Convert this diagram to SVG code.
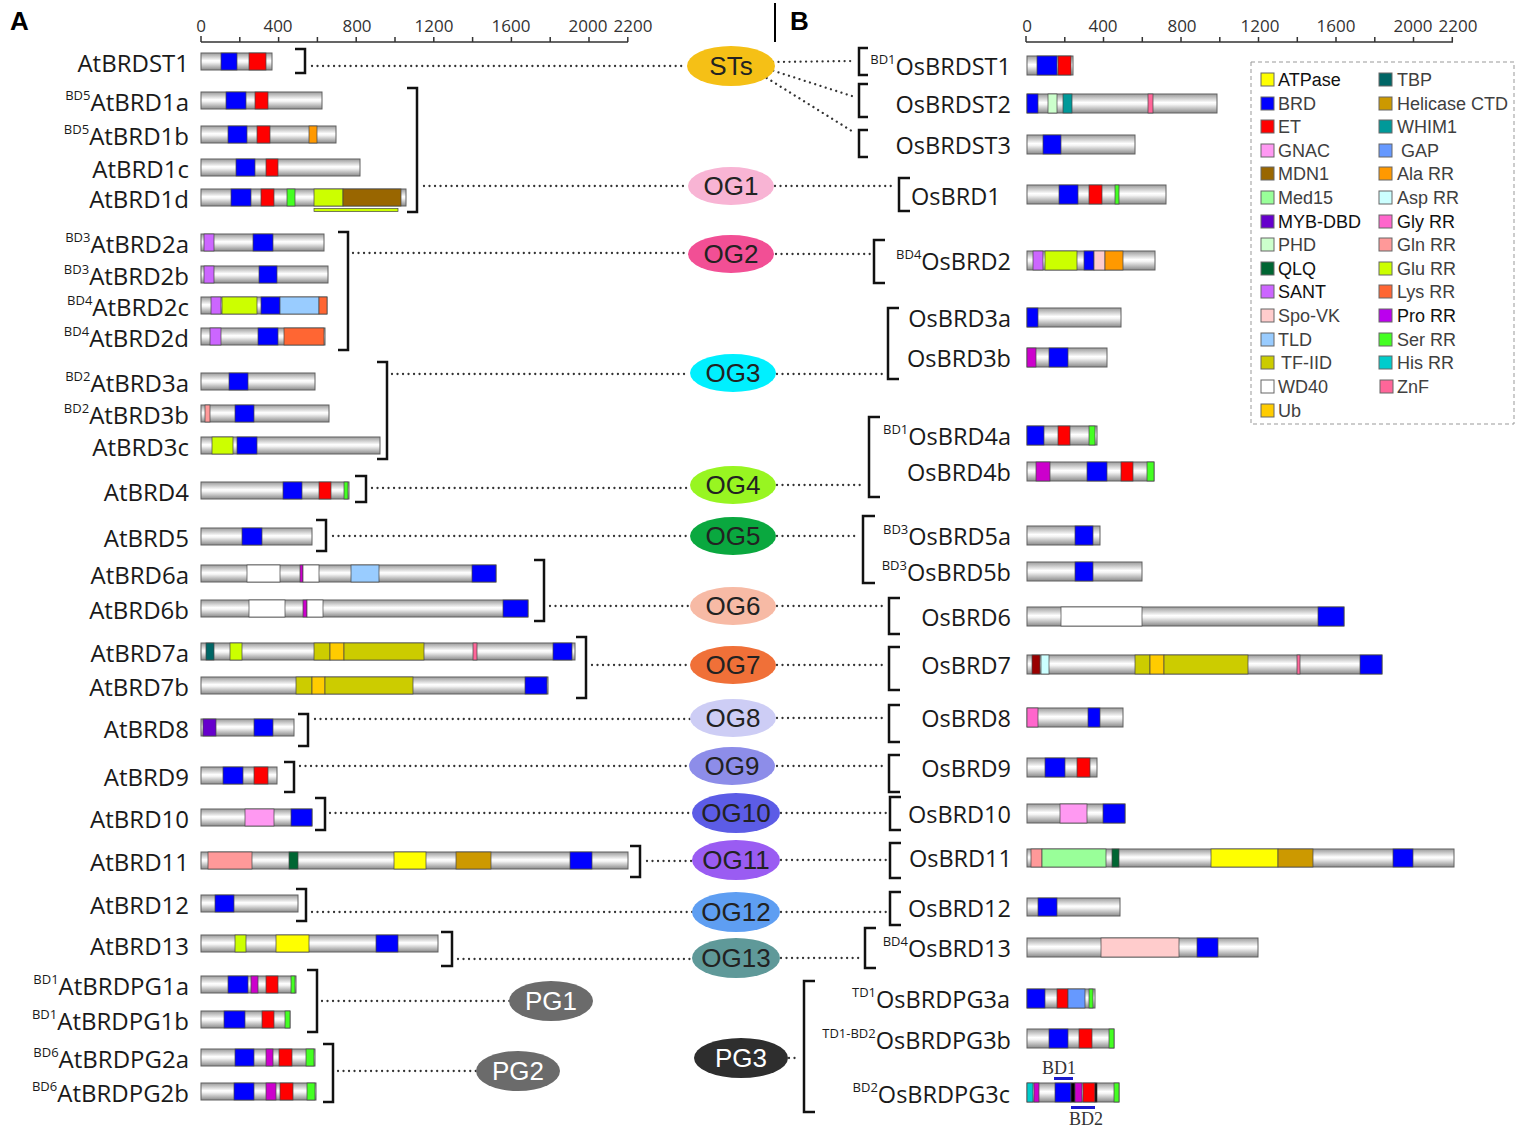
<svg xmlns="http://www.w3.org/2000/svg" width="1531" height="1137" viewBox="0 0 1531 1137">
<defs>
<linearGradient id="gb" x1="0" y1="0" x2="0" y2="1">
<stop offset="0" stop-color="#9a9a9a"/><stop offset="0.45" stop-color="#ffffff"/><stop offset="0.55" stop-color="#f4f4f4"/><stop offset="1" stop-color="#8a8a8a"/>
</linearGradient>
</defs>
<style>
.bar{fill:url(#gb);stroke:#606060;stroke-width:1}
.d{stroke:#444;stroke-width:0.7}
.atp{fill:#ffff00}.brd{fill:#0000ff}.et{fill:#ff0000}.gnac{fill:#ff99f2}.mdn{fill:#996600}.med{fill:#99ff99}
.myb{fill:#6600cc}.phd{fill:#ccffcc}.qlq{fill:#006633}.sant{fill:#cc66ff}.spo{fill:#ffcccc}.tld{fill:#99ccff}
.tf{fill:#cccc00}.wd{fill:#ffffff}.ub{fill:#ffcc00}.tbp{fill:#006666}.hel{fill:#cc9900}.whim{fill:#009999}
.gap{fill:#6699ff}.ala{fill:#ff9900}.asp{fill:#ccffff}.gly{fill:#ff66cc}.gln{fill:#ff9999}.glu{fill:#ccff00}
.lys{fill:#ff6633}.pro{fill:#cc00cc}.ser{fill:#44ff22}.his{fill:#00cccc}.znf{fill:#ff6699}.blk{fill:#000}.mar{fill:#990000}
.lab{font-family:"Open Sans","Liberation Sans",sans-serif;font-size:23.5px;fill:#1a1a1a}
.lft{font-size:24px}
.labL{text-anchor:end}
.sup{font-size:13px}
.ax{font-family:"Open Sans","Liberation Sans",sans-serif;font-size:17px;fill:#333;text-anchor:middle}
.axl{stroke:#333;stroke-width:1.5;fill:none}
.brk{stroke:#111;stroke-width:2.5;fill:none}
.dot{stroke:#333;stroke-width:2.3;stroke-dasharray:0.01 5.5;stroke-linecap:round;fill:none}
.ov{font-family:"Liberation Sans",Arial,sans-serif;font-size:26px;text-anchor:middle;fill:#222}
.leg{font-family:"Liberation Sans",Arial,sans-serif;font-size:18px;fill:#404040}
.sw{stroke:#666;stroke-width:1}
.pl{font-family:"Liberation Sans",Arial,sans-serif;font-size:26px;font-weight:bold;fill:#000}
.bdt{font-family:"Liberation Serif","Times New Roman",serif;font-size:18px;fill:#333;text-anchor:middle}
</style>
<rect width="1531" height="1137" fill="#fff"/>
<text class="pl" x="10" y="30">A</text>
<text class="pl" x="790" y="30">B</text>
<line x1="775" y1="3" x2="775" y2="42" stroke="#000" stroke-width="2"/>

<g id="axisA">
<path class="axl" d="M201,42H628M201,42v-6M239.8,42v-5M278.6,42v-5M317.4,42v-5M356.2,42v-5M395,42v-5M433.8,42v-5M472.6,42v-5M511.4,42v-5M550.2,42v-5M589,42v-5M627.8,42v-5"/>
<text class="ax" x="201" y="32">0</text><text class="ax" x="278" y="32">400</text><text class="ax" x="357" y="32">800</text><text class="ax" x="434" y="32">1200</text><text class="ax" x="511" y="32">1600</text><text class="ax" x="588" y="32">2000</text><text class="ax" x="633" y="32">2200</text>
</g>
<g id="axisB">
<path class="axl" d="M1026,42H1453M1026,42v-6M1064.8,42v-5M1103.5,42v-5M1142.3,42v-5M1181,42v-5M1219.8,42v-5M1258.5,42v-5M1297.3,42v-5M1336,42v-5M1374.8,42v-5M1413.5,42v-5M1452.3,42v-5"/>
<text class="ax" x="1027" y="32">0</text><text class="ax" x="1103" y="32">400</text><text class="ax" x="1182" y="32">800</text><text class="ax" x="1260" y="32">1200</text><text class="ax" x="1336" y="32">1600</text><text class="ax" x="1413" y="32">2000</text><text class="ax" x="1458" y="32">2200</text>
</g>

<g id="connectors">
<path class="brk" d="M295,49H305V73H295"/>
<path class="brk" d="M407,88H417V212H407"/>
<path class="brk" d="M338,232H348V350H338"/>
<path class="brk" d="M377,362H387V459H377"/>
<path class="brk" d="M355,476H366V502H355"/>
<path class="brk" d="M316,520H326V551H316"/>
<path class="brk" d="M534,560H544V621H534"/>
<path class="brk" d="M576,637H586V698H576"/>
<path class="brk" d="M298,714H308V746H298"/>
<path class="brk" d="M284,762H294V792H284"/>
<path class="brk" d="M315,798H325V830H315"/>
<path class="brk" d="M630,846H640V877H630"/>
<path class="brk" d="M296,889H306V921H296"/>
<path class="brk" d="M441,932H452V966H441"/>
<path class="brk" d="M307,970H317V1032H307"/>
<path class="brk" d="M323,1044H333V1102H323"/>
<path class="brk" d="M868,48H859V75H868"/>
<path class="brk" d="M868,84H859V117H868"/>
<path class="brk" d="M868,130H859V157H868"/>
<path class="brk" d="M910,178H899V211H910"/>
<path class="brk" d="M885,240H874V283H885"/>
<path class="brk" d="M899,308H888V379H899"/>
<path class="brk" d="M880,417H869V497H880"/>
<path class="brk" d="M875,516H863V583H875"/>
<path class="brk" d="M900,598H889V634H900"/>
<path class="brk" d="M900,647H889V690H900"/>
<path class="brk" d="M900,705H889V742H900"/>
<path class="brk" d="M900,755H889V792H900"/>
<path class="brk" d="M901,797H890V830H901"/>
<path class="brk" d="M901,843H890V878H901"/>
<path class="brk" d="M901,892H890V925H901"/>
<path class="brk" d="M876,928H865V968H876"/>
<path class="brk" d="M815,981H804V1112H815"/>
<path class="dot" d="M312,66H686"/>
<path class="dot" d="M424,186H686"/>
<path class="dot" d="M353,253H687"/>
<path class="dot" d="M392,374H688"/>
<path class="dot" d="M372,488H690"/>
<path class="dot" d="M333,536H690"/>
<path class="dot" d="M550,606H690"/>
<path class="dot" d="M592,665H690"/>
<path class="dot" d="M315,719H690"/>
<path class="dot" d="M300,766H690"/>
<path class="dot" d="M330,813H693"/>
<path class="dot" d="M647,861H693"/>
<path class="dot" d="M312,912H693"/>
<path class="dot" d="M458,959H693"/>
<path class="dot" d="M322,1001H510"/>
<path class="dot" d="M338,1071H477"/>
<path class="dot" d="M773,62L855,61"/>
<path class="dot" d="M768,69L855,97"/>
<path class="dot" d="M762,75L855,133"/>
<path class="dot" d="M775,186H895"/>
<path class="dot" d="M776,254H870"/>
<path class="dot" d="M777,374H884"/>
<path class="dot" d="M777,485H865"/>
<path class="dot" d="M777,536H859"/>
<path class="dot" d="M777,606H885"/>
<path class="dot" d="M777,665H885"/>
<path class="dot" d="M777,718H885"/>
<path class="dot" d="M777,766H885"/>
<path class="dot" d="M781,813H886"/>
<path class="dot" d="M781,860H886"/>
<path class="dot" d="M781,912H886"/>
<path class="dot" d="M781,958H861"/>
<path class="dot" d="M789,1058H800"/>
</g>

<g id="STs"><ellipse cx="731" cy="66" rx="44" ry="20" fill="#f5c016"/><text class="ov" x="731" y="75">STs</text></g>
<g id="OG1"><ellipse cx="731" cy="186" rx="43" ry="19" fill="#f8b4d4"/><text class="ov" x="731" y="195">OG1</text></g>
<g id="OG2"><ellipse cx="731" cy="254" rx="43" ry="19" fill="#f24f95"/><text class="ov" x="731" y="263">OG2</text></g>
<g id="OG3"><ellipse cx="733" cy="373" rx="43" ry="19" fill="#00f0ff"/><text class="ov" x="733" y="382">OG3</text></g>
<g id="OG4"><ellipse cx="733" cy="485" rx="43" ry="19" fill="#98f521"/><text class="ov" x="733" y="494">OG4</text></g>
<g id="OG5"><ellipse cx="733" cy="536" rx="43" ry="19" fill="#0aa83f"/><text class="ov" x="733" y="545">OG5</text></g>
<g id="OG6"><ellipse cx="733" cy="606" rx="43" ry="19" fill="#f7baa5"/><text class="ov" x="733" y="615">OG6</text></g>
<g id="OG7"><ellipse cx="733" cy="665" rx="43" ry="19" fill="#f07038"/><text class="ov" x="733" y="674">OG7</text></g>
<g id="OG8"><ellipse cx="733" cy="718" rx="43" ry="19" fill="#cdcdf5"/><text class="ov" x="733" y="727">OG8</text></g>
<g id="OG9"><ellipse cx="732" cy="766" rx="43" ry="19" fill="#8d8de9"/><text class="ov" x="732" y="775">OG9</text></g>
<g id="OG10"><ellipse cx="736" cy="813" rx="44" ry="20" fill="#5c5ce6"/><text class="ov" x="736" y="822">OG10</text></g>
<g id="OG11"><ellipse cx="736" cy="860" rx="44" ry="20" fill="#9a5cf2"/><text class="ov" x="736" y="869">OG11</text></g>
<g id="OG12"><ellipse cx="736" cy="912" rx="44" ry="20" fill="#5e9ef2"/><text class="ov" x="736" y="921">OG12</text></g>
<g id="OG13"><ellipse cx="736" cy="958" rx="44" ry="20" fill="#5f9999"/><text class="ov" x="736" y="967">OG13</text></g>
<g id="PG1"><ellipse cx="551" cy="1001" rx="42" ry="20" fill="#6b6b6b"/><text class="ov" x="551" y="1010" style="fill:#fff">PG1</text></g>
<g id="PG2"><ellipse cx="518" cy="1071" rx="42" ry="20" fill="#6b6b6b"/><text class="ov" x="518" y="1080" style="fill:#fff">PG2</text></g>
<g id="PG3"><ellipse cx="741" cy="1058" rx="47" ry="20" fill="#2e2e2e"/><text class="ov" x="741" y="1067" style="fill:#fff">PG3</text></g>

<!-- Left proteins -->
<g id="AtBRDST1"><text class="lab lft labL" x="189" y="72">AtBRDST1</text><rect class="bar" x="201" y="53" width="71" height="17"/><rect class="d brd" x="221" y="53" width="16" height="17"/><rect class="d et" x="249" y="53" width="17" height="17"/></g>
<g id="AtBRD1a"><text class="lab lft labL" x="189" y="111"><tspan class="sup" dy="-11">BD5</tspan><tspan dy="11">AtBRD1a</tspan></text><rect class="bar" x="201" y="92" width="121" height="17"/><rect class="d brd" x="226" y="92" width="20" height="17"/><rect class="d et" x="255" y="92" width="13" height="17"/></g>
<g id="AtBRD1b"><text class="lab lft labL" x="189" y="145"><tspan class="sup" dy="-11">BD5</tspan><tspan dy="11">AtBRD1b</tspan></text><rect class="bar" x="201" y="126" width="135" height="17"/><rect class="d brd" x="228" y="126" width="19" height="17"/><rect class="d et" x="257" y="126" width="13" height="17"/><rect class="d ala" x="309" y="126" width="8" height="17"/></g>
<g id="AtBRD1c"><text class="lab lft labL" x="189" y="178">AtBRD1c</text><rect class="bar" x="201" y="159" width="159" height="17"/><rect class="d brd" x="236" y="159" width="19" height="17"/><rect class="d et" x="266" y="159" width="12" height="17"/></g>
<g id="AtBRD1d"><text class="lab lft labL" x="189" y="208">AtBRD1d</text><rect class="bar" x="201" y="189" width="205" height="17"/><rect class="d brd" x="231" y="189" width="20" height="17"/><rect class="d et" x="261" y="189" width="13" height="17"/><rect class="d ser" x="287" y="189" width="8" height="17"/><rect class="d glu" x="314" y="189" width="29" height="17"/><rect class="d mdn" x="343" y="189" width="58" height="17"/><rect class="d glu" x="314" y="208.5" width="84" height="3"/></g>
<g id="AtBRD2a"><text class="lab lft labL" x="189" y="253"><tspan class="sup" dy="-11">BD3</tspan><tspan dy="11">AtBRD2a</tspan></text><rect class="bar" x="201" y="234" width="123" height="17"/><rect class="d sant" x="204" y="234" width="10" height="17"/><rect class="d brd" x="253" y="234" width="20" height="17"/></g>
<g id="AtBRD2b"><text class="lab lft labL" x="189" y="285"><tspan class="sup" dy="-11">BD3</tspan><tspan dy="11">AtBRD2b</tspan></text><rect class="bar" x="201" y="266" width="127" height="17"/><rect class="d sant" x="204" y="266" width="10" height="17"/><rect class="d brd" x="259" y="266" width="18" height="17"/></g>
<g id="AtBRD2c"><text class="lab lft labL" x="189" y="316"><tspan class="sup" dy="-11">BD4</tspan><tspan dy="11">AtBRD2c</tspan></text><rect class="bar" x="201" y="297" width="126" height="17"/><rect class="d sant" x="211" y="297" width="10" height="17"/><rect class="d glu" x="222" y="297" width="35" height="17"/><rect class="d brd" x="261" y="297" width="19" height="17"/><rect class="d tld" x="280" y="297" width="39" height="17"/><rect class="d lys" x="319" y="297" width="8" height="17"/></g>
<g id="AtBRD2d"><text class="lab lft labL" x="189" y="347"><tspan class="sup" dy="-11">BD4</tspan><tspan dy="11">AtBRD2d</tspan></text><rect class="bar" x="201" y="328" width="124" height="17"/><rect class="d sant" x="210" y="328" width="11" height="17"/><rect class="d brd" x="258" y="328" width="20" height="17"/><rect class="d lys" x="284" y="328" width="40" height="17"/></g>
<g id="AtBRD3a"><text class="lab lft labL" x="189" y="392"><tspan class="sup" dy="-11">BD2</tspan><tspan dy="11">AtBRD3a</tspan></text><rect class="bar" x="201" y="373" width="114" height="17"/><rect class="d brd" x="229" y="373" width="19" height="17"/></g>
<g id="AtBRD3b"><text class="lab lft labL" x="189" y="424"><tspan class="sup" dy="-11">BD2</tspan><tspan dy="11">AtBRD3b</tspan></text><rect class="bar" x="201" y="405" width="128" height="17"/><rect class="d gln" x="205" y="405" width="5" height="17"/><rect class="d brd" x="235" y="405" width="19" height="17"/></g>
<g id="AtBRD3c"><text class="lab lft labL" x="189" y="456">AtBRD3c</text><rect class="bar" x="201" y="437" width="179" height="17"/><rect class="d glu" x="212" y="437" width="21" height="17"/><rect class="d brd" x="237" y="437" width="20" height="17"/></g>
<g id="AtBRD4"><text class="lab lft labL" x="189" y="501">AtBRD4</text><rect class="bar" x="201" y="482" width="148" height="17"/><rect class="d brd" x="283" y="482" width="19" height="17"/><rect class="d et" x="319" y="482" width="12" height="17"/><rect class="d ser" x="344" y="482" width="4" height="17"/></g>
<g id="AtBRD5"><text class="lab lft labL" x="189" y="547">AtBRD5</text><rect class="bar" x="201" y="528" width="111" height="17"/><rect class="d brd" x="242" y="528" width="20" height="17"/></g>
<g id="AtBRD6a"><text class="lab lft labL" x="189" y="584">AtBRD6a</text><rect class="bar" x="201" y="565" width="295" height="17"/><rect class="d wd" x="247" y="565" width="33" height="17"/><rect class="d pro" x="300" y="565" width="3" height="17"/><rect class="d wd" x="303" y="565" width="16" height="17"/><rect class="d tld" x="351" y="565" width="28" height="17"/><rect class="d brd" x="472" y="565" width="24" height="17"/></g>
<g id="AtBRD6b"><text class="lab lft labL" x="189" y="619">AtBRD6b</text><rect class="bar" x="201" y="600" width="327" height="17"/><rect class="d wd" x="249" y="600" width="36" height="17"/><rect class="d pro" x="303" y="600" width="4" height="17"/><rect class="d wd" x="307" y="600" width="16" height="17"/><rect class="d brd" x="503" y="600" width="25" height="17"/></g>
<g id="AtBRD7a"><text class="lab lft labL" x="189" y="662">AtBRD7a</text><rect class="bar" x="201" y="643" width="374" height="17"/><rect class="d tbp" x="206" y="643" width="8" height="17"/><rect class="d glu" x="230" y="643" width="12" height="17"/><rect class="d tf" x="314" y="643" width="16" height="17"/><rect class="d ub" x="330" y="643" width="14" height="17"/><rect class="d tf" x="344" y="643" width="80" height="17"/><rect class="d znf" x="473" y="643" width="4" height="17"/><rect class="d brd" x="553" y="643" width="19" height="17"/></g>
<g id="AtBRD7b"><text class="lab lft labL" x="189" y="696">AtBRD7b</text><rect class="bar" x="201" y="677" width="347" height="17"/><rect class="d tf" x="296" y="677" width="16" height="17"/><rect class="d ub" x="312" y="677" width="13" height="17"/><rect class="d tf" x="325" y="677" width="88" height="17"/><rect class="d brd" x="525" y="677" width="22" height="17"/></g>
<g id="AtBRD8"><text class="lab lft labL" x="189" y="738">AtBRD8</text><rect class="bar" x="201" y="719" width="93" height="17"/><rect class="d myb" x="203" y="719" width="13" height="17"/><rect class="d brd" x="254" y="719" width="19" height="17"/></g>
<g id="AtBRD9"><text class="lab lft labL" x="189" y="786">AtBRD9</text><rect class="bar" x="201" y="767" width="76" height="17"/><rect class="d brd" x="223" y="767" width="20" height="17"/><rect class="d et" x="254" y="767" width="14" height="17"/></g>
<g id="AtBRD10"><text class="lab lft labL" x="189" y="828">AtBRD10</text><rect class="bar" x="201" y="809" width="111" height="17"/><rect class="d gnac" x="245" y="809" width="29" height="17"/><rect class="d brd" x="291" y="809" width="21" height="17"/></g>
<g id="AtBRD11"><text class="lab lft labL" x="189" y="871">AtBRD11</text><rect class="bar" x="201" y="852" width="427" height="17"/><rect class="d gln" x="208" y="852" width="44" height="17"/><rect class="d qlq" x="289" y="852" width="9" height="17"/><rect class="d atp" x="394" y="852" width="32" height="17"/><rect class="d hel" x="456" y="852" width="35" height="17"/><rect class="d brd" x="570" y="852" width="22" height="17"/></g>
<g id="AtBRD12"><text class="lab lft labL" x="189" y="914">AtBRD12</text><rect class="bar" x="201" y="895" width="97" height="17"/><rect class="d brd" x="215" y="895" width="19" height="17"/></g>
<g id="AtBRD13"><text class="lab lft labL" x="189" y="955">AtBRD13</text><rect class="bar" x="201" y="935" width="237" height="17"/><rect class="d glu" x="235" y="935" width="11" height="17"/><rect class="d atp" x="276" y="935" width="33" height="17"/><rect class="d brd" x="376" y="935" width="22" height="17"/></g>
<g id="AtBRDPG1a"><text class="lab lft labL" x="189" y="995"><tspan class="sup" dy="-11">BD1</tspan><tspan dy="11">AtBRDPG1a</tspan></text><rect class="bar" x="201" y="976" width="95" height="17"/><rect class="d brd" x="228" y="976" width="20" height="17"/><rect class="d pro" x="251" y="976" width="7" height="17"/><rect class="d et" x="266" y="976" width="12" height="17"/><rect class="d ser" x="291" y="976" width="4" height="17"/></g>
<g id="AtBRDPG1b"><text class="lab lft labL" x="189" y="1030"><tspan class="sup" dy="-11">BD1</tspan><tspan dy="11">AtBRDPG1b</tspan></text><rect class="bar" x="201" y="1011" width="89" height="17"/><rect class="d brd" x="224" y="1011" width="21" height="17"/><rect class="d et" x="262" y="1011" width="12" height="17"/><rect class="d ser" x="285" y="1011" width="5" height="17"/></g>
<g id="AtBRDPG2a"><text class="lab lft labL" x="189" y="1068"><tspan class="sup" dy="-11">BD6</tspan><tspan dy="11">AtBRDPG2a</tspan></text><rect class="bar" x="201" y="1049" width="114" height="17"/><rect class="d brd" x="235" y="1049" width="19" height="17"/><rect class="d pro" x="266" y="1049" width="7" height="17"/><rect class="d et" x="279" y="1049" width="13" height="17"/><rect class="d ser" x="306" y="1049" width="8" height="17"/></g>
<g id="AtBRDPG2b"><text class="lab lft labL" x="189" y="1102"><tspan class="sup" dy="-11">BD6</tspan><tspan dy="11">AtBRDPG2b</tspan></text><rect class="bar" x="201" y="1083" width="115" height="17"/><rect class="d brd" x="234" y="1083" width="20" height="17"/><rect class="d pro" x="266" y="1083" width="10" height="17"/><rect class="d et" x="280" y="1083" width="13" height="17"/><rect class="d ser" x="307" y="1083" width="8" height="17"/></g>

<!-- Right proteins -->
<g id="OsBRDST1"><text class="lab labL" x="1011" y="75"><tspan class="sup" dy="-11">BD1</tspan><tspan dy="11">OsBRDST1</tspan></text><rect class="bar" x="1027" y="56" width="46" height="19"/><rect class="d brd" x="1037" y="56" width="20" height="19"/><rect class="d et" x="1058" y="56" width="13" height="19"/></g>
<g id="OsBRDST2"><text class="lab labL" x="1011" y="113">OsBRDST2</text><rect class="bar" x="1027" y="94" width="190" height="19"/><rect class="d brd" x="1027" y="94" width="11" height="19"/><rect class="d phd" x="1048" y="94" width="9" height="19"/><rect class="d whim" x="1063" y="94" width="9" height="19"/><rect class="d znf" x="1148" y="94" width="5" height="19"/></g>
<g id="OsBRDST3"><text class="lab labL" x="1011" y="154">OsBRDST3</text><rect class="bar" x="1027" y="135" width="108" height="19"/><rect class="d brd" x="1043" y="135" width="18" height="19"/></g>
<g id="OsBRD1"><text class="lab" x="911" y="205">OsBRD1</text><rect class="bar" x="1027" y="185" width="139" height="19"/><rect class="d brd" x="1059" y="185" width="19" height="19"/><rect class="d et" x="1089" y="185" width="13" height="19"/><rect class="d ser" x="1115" y="185" width="4" height="19"/></g>
<g id="OsBRD2"><text class="lab labL" x="1011" y="270"><tspan class="sup" dy="-11">BD4</tspan><tspan dy="11">OsBRD2</tspan></text><rect class="bar" x="1027" y="251" width="128" height="19"/><rect class="d sant" x="1033" y="251" width="10" height="19"/><rect class="d glu" x="1045" y="251" width="32" height="19"/><rect class="d brd" x="1084" y="251" width="10" height="19"/><rect class="d spo" x="1094" y="251" width="11" height="19"/><rect class="d ala" x="1105" y="251" width="18" height="19"/></g>
<g id="OsBRD3a"><text class="lab labL" x="1011" y="327">OsBRD3a</text><rect class="bar" x="1027" y="308" width="94" height="19"/><rect class="d brd" x="1027" y="308" width="11" height="19"/></g>
<g id="OsBRD3b"><text class="lab labL" x="1011" y="367">OsBRD3b</text><rect class="bar" x="1027" y="348" width="80" height="19"/><rect class="d pro" x="1027" y="348" width="9" height="19"/><rect class="d brd" x="1049" y="348" width="19" height="19"/></g>
<g id="OsBRD4a"><text class="lab labL" x="1011" y="445"><tspan class="sup" dy="-11">BD1</tspan><tspan dy="11">OsBRD4a</tspan></text><rect class="bar" x="1027" y="426" width="70" height="19"/><rect class="d brd" x="1027" y="426" width="17" height="19"/><rect class="d et" x="1058" y="426" width="12" height="19"/><rect class="d ser" x="1089" y="426" width="6" height="19"/></g>
<g id="OsBRD4b"><text class="lab labL" x="1011" y="481">OsBRD4b</text><rect class="bar" x="1027" y="462" width="127" height="19"/><rect class="d pro" x="1036" y="462" width="14" height="19"/><rect class="d brd" x="1087" y="462" width="20" height="19"/><rect class="d et" x="1121" y="462" width="12" height="19"/><rect class="d ser" x="1147" y="462" width="7" height="19"/></g>
<g id="OsBRD5a"><text class="lab labL" x="1011" y="545"><tspan class="sup" dy="-11">BD3</tspan><tspan dy="11">OsBRD5a</tspan></text><rect class="bar" x="1027" y="526" width="73" height="19"/><rect class="d brd" x="1075" y="526" width="18" height="19"/></g>
<g id="OsBRD5b"><text class="lab labL" x="1011" y="581"><tspan class="sup" dy="-11">BD3</tspan><tspan dy="11">OsBRD5b</tspan></text><rect class="bar" x="1027" y="562" width="115" height="19"/><rect class="d brd" x="1075" y="562" width="18" height="19"/></g>
<g id="OsBRD6"><text class="lab labL" x="1011" y="626">OsBRD6</text><rect class="bar" x="1027" y="607" width="317" height="19"/><rect class="d wd" x="1061" y="607" width="81" height="19"/><rect class="d brd" x="1318" y="607" width="26" height="19"/></g>
<g id="OsBRD7"><text class="lab labL" x="1011" y="674">OsBRD7</text><rect class="bar" x="1027" y="655" width="355" height="19"/><rect class="d mar" x="1032" y="655" width="8" height="19"/><rect class="d asp" x="1041" y="655" width="8" height="19"/><rect class="d tf" x="1135" y="655" width="15" height="19"/><rect class="d ub" x="1150" y="655" width="14" height="19"/><rect class="d tf" x="1164" y="655" width="84" height="19"/><rect class="d znf" x="1297" y="655" width="3" height="19"/><rect class="d brd" x="1360" y="655" width="22" height="19"/></g>
<g id="OsBRD8"><text class="lab labL" x="1011" y="727">OsBRD8</text><rect class="bar" x="1027" y="708" width="96" height="19"/><rect class="d gly" x="1027" y="708" width="11" height="19"/><rect class="d brd" x="1088" y="708" width="12" height="19"/></g>
<g id="OsBRD9"><text class="lab labL" x="1011" y="777">OsBRD9</text><rect class="bar" x="1027" y="758" width="70" height="19"/><rect class="d brd" x="1045" y="758" width="20" height="19"/><rect class="d et" x="1077" y="758" width="13" height="19"/></g>
<g id="OsBRD10"><text class="lab labL" x="1011" y="823">OsBRD10</text><rect class="bar" x="1027" y="804" width="98" height="19"/><rect class="d gnac" x="1060" y="804" width="27" height="19"/><rect class="d brd" x="1103" y="804" width="22" height="19"/></g>
<g id="OsBRD11"><text class="lab labL" x="1012" y="867">OsBRD11</text><rect class="bar" x="1027" y="849" width="427" height="18"/><rect class="d gln" x="1031" y="849" width="11" height="18"/><rect class="d med" x="1042" y="849" width="64" height="18"/><rect class="d qlq" x="1112" y="849" width="7" height="18"/><rect class="d atp" x="1211" y="849" width="67" height="18"/><rect class="d hel" x="1278" y="849" width="35" height="18"/><rect class="d brd" x="1393" y="849" width="20" height="18"/></g>
<g id="OsBRD12"><text class="lab labL" x="1011" y="917">OsBRD12</text><rect class="bar" x="1027" y="898" width="93" height="18"/><rect class="d brd" x="1038" y="898" width="19" height="18"/></g>
<g id="OsBRD13"><text class="lab labL" x="1011" y="957"><tspan class="sup" dy="-11">BD4</tspan><tspan dy="11">OsBRD13</tspan></text><rect class="bar" x="1027" y="938" width="231" height="19"/><rect class="d spo" x="1101" y="938" width="78" height="19"/><rect class="d brd" x="1197" y="938" width="21" height="19"/></g>
<g id="OsBRDPG3a"><text class="lab labL" x="1010" y="1008"><tspan class="sup" dy="-11">TD1</tspan><tspan dy="11">OsBRDPG3a</tspan></text><rect class="bar" x="1027" y="989" width="68" height="19"/><rect class="d brd" x="1027" y="989" width="18" height="19"/><rect class="d et" x="1057" y="989" width="11" height="19"/><rect class="d gap" x="1068" y="989" width="17" height="19"/><rect class="d ser" x="1089" y="989" width="4" height="19"/></g>
<g id="OsBRDPG3b"><text class="lab labL" x="1011" y="1049"><tspan class="sup" dy="-11">TD1-BD2</tspan><tspan dy="11">OsBRDPG3b</tspan></text><rect class="bar" x="1027" y="1029" width="87" height="19"/><rect class="d brd" x="1049" y="1029" width="19" height="19"/><rect class="d et" x="1079" y="1029" width="13" height="19"/><rect class="d ser" x="1109" y="1029" width="5" height="19"/></g>
<g id="OsBRDPG3c"><text class="lab labL" x="1010" y="1103"><tspan class="sup" dy="-11">BD2</tspan><tspan dy="11">OsBRDPG3c</tspan></text><rect class="bar" x="1027" y="1083" width="92" height="19"/><rect class="d his" x="1027" y="1083" width="6" height="19"/><rect class="d pro" x="1034" y="1083" width="5" height="19"/><rect class="d brd" x="1055" y="1083" width="16" height="19"/><rect class="d blk" x="1071" y="1083" width="4" height="19"/><rect class="d pro" x="1075" y="1083" width="7" height="19"/><rect class="d et" x="1083" y="1083" width="12" height="19"/><rect class="d blk" x="1095" y="1083" width="2" height="19"/><rect class="d ser" x="1114" y="1083" width="5" height="19"/>
<rect x="1054" y="1077" width="19" height="3" fill="#1a1acc"/><text class="bdt" x="1059" y="1074">BD1</text>
<rect x="1071" y="1106" width="24" height="3" fill="#1a1acc"/><text class="bdt" x="1086" y="1125">BD2</text></g>

<g id="legend">
<rect x="1251" y="62" width="263" height="362" fill="none" stroke="#999" stroke-width="1" stroke-dasharray="4 3"/>
<rect class="sw atp" x="1261" y="73" width="13" height="13"/><text class="leg" x="1278" y="86" style="fill:#111">ATPase</text>
<rect class="sw brd" x="1261" y="97" width="13" height="13"/><text class="leg" x="1278" y="110">BRD</text>
<rect class="sw et" x="1261" y="120" width="13" height="13"/><text class="leg" x="1278" y="133">ET</text>
<rect class="sw gnac" x="1261" y="144" width="13" height="13"/><text class="leg" x="1278" y="157">GNAC</text>
<rect class="sw mdn" x="1261" y="167" width="13" height="13"/><text class="leg" x="1278" y="180">MDN1</text>
<rect class="sw med" x="1261" y="191" width="13" height="13"/><text class="leg" x="1278" y="204">Med15</text>
<rect class="sw myb" x="1261" y="215" width="13" height="13"/><text class="leg" x="1278" y="228" style="fill:#111">MYB-DBD</text>
<rect class="sw phd" x="1261" y="238" width="13" height="13"/><text class="leg" x="1278" y="251">PHD</text>
<rect class="sw qlq" x="1261" y="262" width="13" height="13"/><text class="leg" x="1278" y="275" style="fill:#111">QLQ</text>
<rect class="sw sant" x="1261" y="285" width="13" height="13"/><text class="leg" x="1278" y="298" style="fill:#111">SANT</text>
<rect class="sw spo" x="1261" y="309" width="13" height="13"/><text class="leg" x="1278" y="322">Spo-VK</text>
<rect class="sw tld" x="1261" y="333" width="13" height="13"/><text class="leg" x="1278" y="346">TLD</text>
<rect class="sw tf" x="1261" y="356" width="13" height="13"/><text class="leg" x="1281" y="369">TF-IID</text>
<rect class="sw wd" x="1261" y="380" width="13" height="13"/><text class="leg" x="1278" y="393">WD40</text>
<rect class="sw ub" x="1261" y="404" width="13" height="13"/><text class="leg" x="1278" y="417">Ub</text>
<rect class="sw tbp" x="1379" y="73" width="13" height="13"/><text class="leg" x="1397" y="86">TBP</text>
<rect class="sw hel" x="1379" y="97" width="13" height="13"/><text class="leg" x="1397" y="110">Helicase CTD</text>
<rect class="sw whim" x="1379" y="120" width="13" height="13"/><text class="leg" x="1397" y="133">WHIM1</text>
<rect class="sw gap" x="1379" y="144" width="13" height="13"/><text class="leg" x="1401" y="157">GAP</text>
<rect class="sw ala" x="1379" y="167" width="13" height="13"/><text class="leg" x="1397" y="180">Ala RR</text>
<rect class="sw asp" x="1379" y="191" width="13" height="13"/><text class="leg" x="1397" y="204">Asp RR</text>
<rect class="sw gly" x="1379" y="215" width="13" height="13"/><text class="leg" x="1397" y="228" style="fill:#111">Gly RR</text>
<rect class="sw gln" x="1379" y="238" width="13" height="13"/><text class="leg" x="1397" y="251">Gln RR</text>
<rect class="sw glu" x="1379" y="262" width="13" height="13"/><text class="leg" x="1397" y="275">Glu RR</text>
<rect class="sw lys" x="1379" y="285" width="13" height="13"/><text class="leg" x="1397" y="298">Lys RR</text>
<rect class="sw pro" x="1379" y="309" width="13" height="13" style="fill:#bb00ee"/><text class="leg" x="1397" y="322" style="fill:#111">Pro RR</text>
<rect class="sw ser" x="1379" y="333" width="13" height="13"/><text class="leg" x="1397" y="346">Ser RR</text>
<rect class="sw his" x="1379" y="356" width="13" height="13"/><text class="leg" x="1397" y="369">His RR</text>
<rect class="sw znf" x="1380" y="380" width="13" height="13"/><text class="leg" x="1397" y="393">ZnF</text>
</g>
</svg>
